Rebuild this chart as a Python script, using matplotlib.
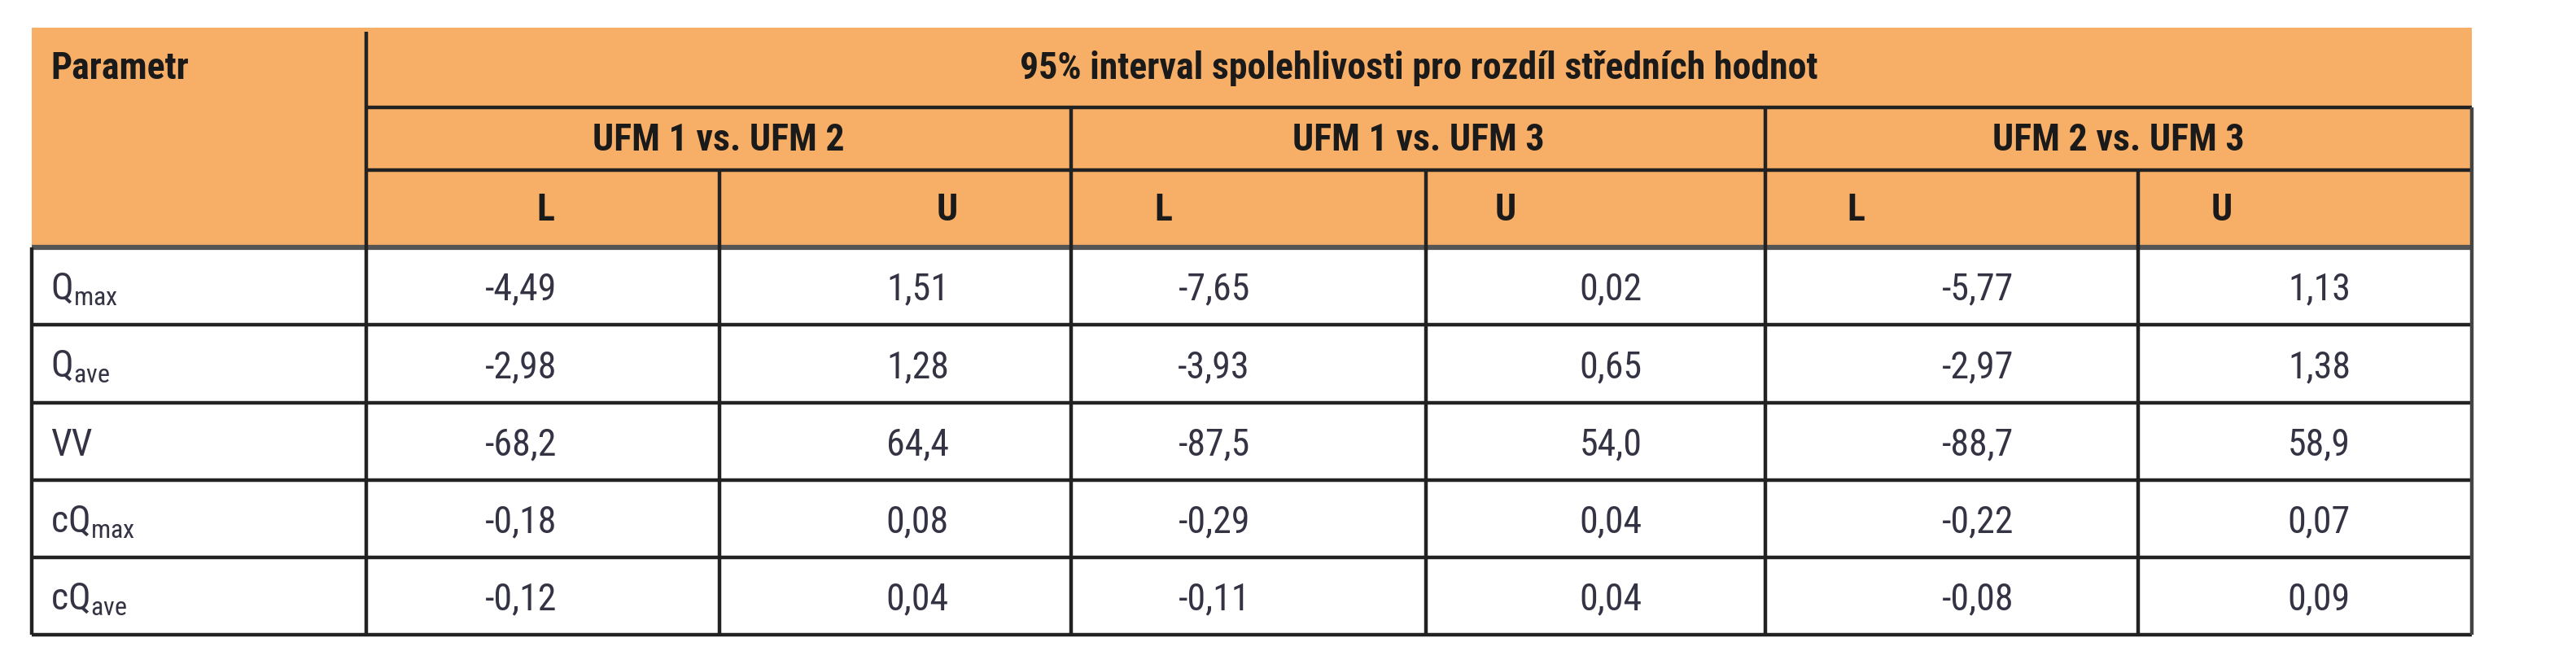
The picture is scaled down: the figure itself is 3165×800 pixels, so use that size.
import matplotlib
matplotlib.use("Agg")
import matplotlib.pyplot as plt
from matplotlib import font_manager as fm

names = {f.name for f in fm.fontManager.ttflist}
FONT = next((n for n in ["Liberation Sans Narrow", "Roboto Condensed", "Roboto", "Liberation Sans"] if n in names), "DejaVu Sans")
plt.rcParams['font.family'] = [FONT, 'DejaVu Sans']
plt.rcParams['mathtext.fontset'] = 'custom'
plt.rcParams['mathtext.rm'] = FONT

title = "95% interval spolehlivosti pro rozdíl středních hodnot"
groups = ["UFM 1 vs. UFM 2", "UFM 1 vs. UFM 3", "UFM 2 vs. UFM 3"]
sub = ["L", "U", "L", "U", "L", "U"]
params = [r"Q$_{\mathrm{max}}$", r"Q$_{\mathrm{ave}}$", "VV", r"cQ$_{\mathrm{max}}$", r"cQ$_{\mathrm{ave}}$"]
values = [
    ["-4,49", "1,51", "-7,65", "0,02", "-5,77", "1,13"],
    ["-2,98", "1,28", "-3,93", "0,65", "-2,97", "1,38"],
    ["-68,2", "64,4", "-87,5", "54,0", "-88,7", "58,9"],
    ["-0,18", "0,08", "-0,29", "0,04", "-0,22", "0,07"],
    ["-0,12", "0,04", "-0,11", "0,04", "-0,08", "0,09"],
]

W, H = 3165, 800
fig = plt.figure(figsize=(W/100, H/100), dpi=100)
ax = fig.add_axes([0, 0, 1, 1])
ax.set_xlim(0, W); ax.set_ylim(H, 0); ax.axis('off')

cols = [39, 450, 884, 1316, 1752, 2169, 2627, 3037]
hrows = [34, 132, 209, 304]
drows = [304, 399, 495, 590, 685, 780]
ORANGE = "#F7AE66"; LC = "#222222"; LW = 3.2

ax.add_patch(plt.Rectangle((cols[0], hrows[0]), cols[-1]-cols[0], hrows[-1]-hrows[0], color=ORANGE, lw=0))

def hl(y, x0, x1, c=LC, lw=LW): ax.plot([x0, x1], [y, y], color=c, lw=lw, solid_capstyle='butt')
def vl(x, y0, y1, c=LC, lw=LW): ax.plot([x, x], [y0, y1], color=c, lw=lw, solid_capstyle='butt')

hl(hrows[1], cols[1], cols[-1]); hl(hrows[2], cols[1], cols[-1])
hl(hrows[3], cols[0], cols[-1], c="#555555", lw=4.5)
for y in drows[1:]:
    hl(y, cols[0], cols[-1])
vl(cols[1], hrows[0]+5, drows[-1])
for x in (cols[3], cols[5]):
    vl(x, hrows[1], drows[-1])
for x in (cols[2], cols[4], cols[6]):
    vl(x, hrows[2], drows[-1])
vl(cols[0], hrows[3], drows[-1]); vl(cols[-1], hrows[1], drows[-1], c="#444444")

FS = 33
ax.text(62, 84, "Parametr", fontsize=FS, fontweight='bold', color="#1a1a1a", va='center', ha='left')
ax.text((cols[1]+cols[-1])/2, 84, title, fontsize=FS, fontweight='bold', color="#1a1a1a", va='center', ha='center')
for i, g in enumerate(groups):
    ax.text((cols[1+2*i]+cols[3+2*i])/2, 172, g, fontsize=FS, fontweight='bold', color="#1a1a1a", va='center', ha='center')
subx = [670, 1164, 1429, 1850, 2280, 2730]
for x, s in zip(subx, sub):
    ax.text(x, 258, s, fontsize=FS, fontweight='bold', color="#1a1a1a", va='center', ha='center')

valx = [684, 1166, 1536, 2018, 2474, 2888]
for r, (p, row) in enumerate(zip(params, values)):
    yc = (drows[r]+drows[r+1])/2 + 4
    ax.text(62, yc, p, fontsize=FS, color="#333344", va='center', ha='left')
    for x, v in zip(valx, row):
        ax.text(x, yc, v, fontsize=FS, color="#333344", va='center', ha='right')

fig.savefig("out.png", dpi=100)
